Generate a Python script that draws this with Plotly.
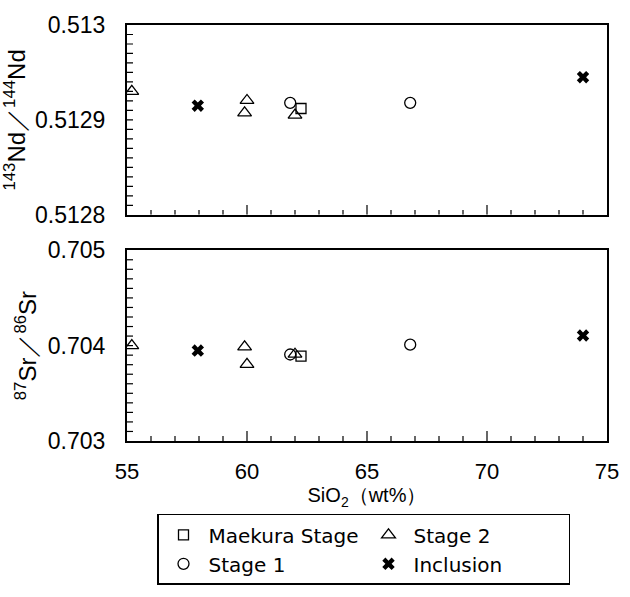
import plotly.graph_objects as go

# SiO2 (wt%) and isotope ratios for each group
maekura_sio2 = [62.25]
maekura_nd = [0.512912]
maekura_sr = [0.70389]

stage1_sio2 = [61.8, 66.8]
stage1_nd = [0.512918, 0.512918]
stage1_sr = [0.703907, 0.70401]

stage2_sio2 = [55.2, 59.9, 60.0, 62.0]
stage2_nd = [0.51293, 0.5129075, 0.5129205, 0.512905]
stage2_sr = [0.70400, 0.703987, 0.703804, 0.70391]

incl_sio2 = [57.95, 74.0]
incl_nd = [0.512915, 0.512945]
incl_sr = [0.703948, 0.704106]

x_ticks = [55, 60, 65, 70, 75]
nd_ticks = [0.5128, 0.5129, 0.513]
nd_labels = ["0.5128", "0.5129", "0.513"]
sr_ticks = [0.703, 0.704, 0.705]
sr_labels = ["0.703", "0.704", "0.705"]

FONT = "Liberation Sans, Arial, sans-serif"
X_RANGE = (55, 75)
ND_RANGE = (0.5128, 0.5130)
SR_RANGE = (0.703, 0.705)
PANEL_W, PANEL_H = 480.0, 193.0  # plot-area size of each panel in px

groups = [
    ("Maekura Stage", maekura_sio2, maekura_nd, maekura_sr,
     dict(symbol="square-open", size=10, color="black", line=dict(width=1.3, color="black"))),
    ("Stage 2", stage2_sio2, stage2_nd, stage2_sr,
     dict(symbol="triangle-up-open", size=12, color="black", line=dict(width=1.3, color="black"))),
    ("Stage 1", stage1_sio2, stage1_nd, stage1_sr,
     dict(symbol="circle-open", size=11, color="black", line=dict(width=1.3, color="black"))),
    ("Inclusion", incl_sio2, incl_nd, incl_sr,
     dict(symbol="x", size=11, color="black", line=dict(width=0))),
]

fig = go.Figure()


def inward_ticks(y_range, y_step):
    """Tick marks pointing into the panel along its bottom and left edges."""
    x0, x1 = X_RANGE
    y0, y1 = y_range
    xs, ys = [], []
    for v in range(x0 + 1, x1):
        length = 10 if v % 5 == 0 else 5
        xs += [v, v, None]
        ys += [y0, y0 + length / PANEL_H * (y1 - y0), None]
    n = round((y1 - y0) / y_step)
    for k in range(1, n):
        val = y0 + k * y_step
        xs += [x0, x0 + 6 / PANEL_W * (x1 - x0), None]
        ys += [val, val, None]
    return xs, ys


for (xa, ya), (yr, step) in zip((("x", "y"), ("x2", "y2")),
                                ((ND_RANGE, 0.00001), (SR_RANGE, 0.0001))):
    tx, ty = inward_ticks(yr, step)
    fig.add_trace(go.Scatter(x=tx, y=ty, mode="lines", line=dict(color="black", width=1.2),
                             xaxis=xa, yaxis=ya, showlegend=False, hoverinfo="skip"))

for name, sx, nd, sr, mk in groups:
    fig.add_trace(go.Scatter(x=sx, y=nd, mode="markers", name=name, marker=mk,
                             xaxis="x", yaxis="y", showlegend=True))
    fig.add_trace(go.Scatter(x=sx, y=sr, mode="markers", name=name, marker=mk,
                             xaxis="x2", yaxis="y2", showlegend=False))

tick_font = dict(family=FONT, size=23, color="black")


def x_axis(**kw):
    ax = dict(domain=[0, 1], range=list(X_RANGE), ticks="", showline=True, linecolor="black",
              mirror=True, linewidth=2, tickmode="array", tickvals=x_ticks,
              showgrid=False, zeroline=False)
    ax.update(kw)
    return ax


def y_axis(**kw):
    ax = dict(ticks="", showline=True, linecolor="black", mirror=True, linewidth=2,
              tickmode="array", tickfont=tick_font, ticklabelstandoff=15,
              showgrid=False, zeroline=False)
    ax.update(kw)
    return ax


fig.update_layout(
    width=630, height=597,
    margin=dict(l=127, r=23, t=25, b=149),
    paper_bgcolor="white", plot_bgcolor="white",
    font=dict(family=FONT, color="black"),
    xaxis=x_axis(anchor="y", showticklabels=False),
    yaxis=y_axis(domain=[0.5437, 1], range=list(ND_RANGE), anchor="x",
                 tickvals=nd_ticks, ticktext=nd_labels,
                 title=dict(text="<sup>143</sup>Nd／<sup>144</sup>Nd", standoff=4,
                            font=dict(family=FONT, size=24, color="black"))),
    xaxis2=x_axis(anchor="y2", ticklabelstandoff=10,
                  tickfont=dict(family=FONT, size=22, color="black"),
                  title=dict(text="SiO<sub>2</sub>（wt%）", standoff=0,
                             font=dict(family=FONT, size=20, color="black"))),
    yaxis2=y_axis(domain=[0, 0.4586], range=list(SR_RANGE), anchor="x2",
                  tickvals=sr_ticks, ticktext=sr_labels,
                  title=dict(text="<sup>87</sup>Sr／<sup>86</sup>Sr", standoff=4,
                             font=dict(family=FONT, size=24, color="black"))),
    legend=dict(orientation="h", x=0.0625, xanchor="left", y=-0.175, yanchor="top",
                entrywidth=150, bordercolor="black", borderwidth=1.5, bgcolor="white",
                font=dict(family="DejaVu Sans, sans-serif", size=20, color="black"),
                traceorder="normal", itemwidth=40),
)

fig.write_html("out.html")
